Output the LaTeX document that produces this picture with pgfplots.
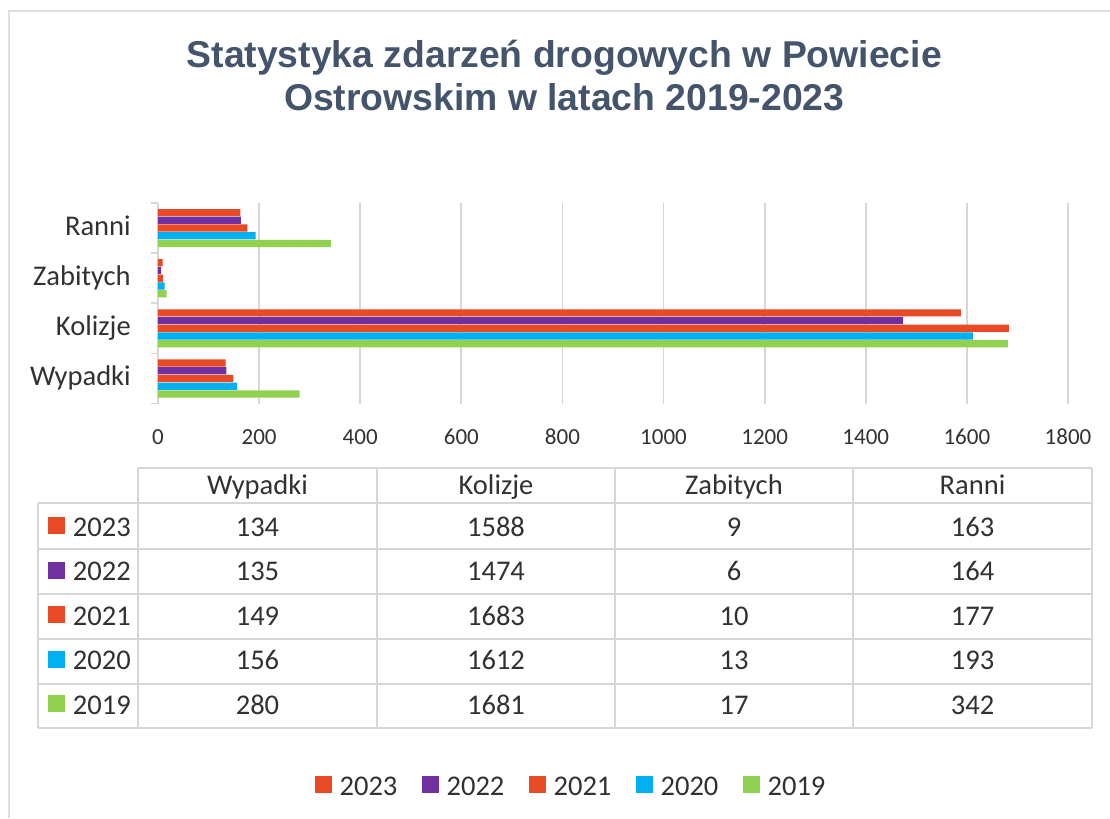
\documentclass[border=0pt]{standalone}
\usepackage{fontspec}
\setmainfont{Carlito}
\newfontfamily\titlefont{Liberation Sans}
\usepackage{pgfplots}
\pgfplotsset{compat=1.18}
\definecolor{cRed}{HTML}{E84A25}
\definecolor{cPurple}{HTML}{7030A0}
\definecolor{cCyan}{HTML}{00B0F0}
\definecolor{cGreen}{HTML}{92D050}
\definecolor{cTitle}{HTML}{44546A}
\definecolor{cText}{RGB}{52,48,48}
\definecolor{cGrid}{RGB}{217,213,210}
\definecolor{cFrame}{RGB}{226,222,218}
\begin{document}
\begin{tikzpicture}[x=0.75pt,y=-0.75pt]
\path[use as bounding box] (0,0) rectangle (1110,818);
\draw[cFrame, line width=1.5pt] (9,818) -- (9,11) -- (1110,11);
% title
\node[anchor=base, inner sep=0pt, text=cTitle, font=\titlefont\bfseries\fontsize{28}{33}\selectfont] at (564.3,67) {Statystyka zdarzeń drogowych w Powiecie};
\node[anchor=base, inner sep=0pt, text=cTitle, font=\titlefont\bfseries\fontsize{28}{33}\selectfont] at (564.3,110) {Ostrowskim w latach 2019-2023};
\coordinate (axSW) at (158,403.5);
\begin{axis}[
  at={(axSW)}, anchor=south west,
  scale only axis, width=682.5pt, height=150.375pt,
  xbar, bar width=5.4pt,
  xmin=0, xmax=1800, ymin=-0.5, ymax=3.5,
  enlargelimits=false,
  axis lines*=left,
  x axis line style={draw=none},
  y axis line style={draw=cGrid, line width=1.3pt},
  xtick={0,200,...,1800},
  ytick={0,1,2,3},
  yticklabels={Wypadki,Kolizje,Zabitych,Ranni},
  minor ytick={-0.5,0.5,1.5,2.5,3.5},
  major tick length=0pt,
  minor tick length=5.25pt,
  tick align=outside,
  minor tick style={draw=cGrid, line width=1.3pt},
  xmajorgrids,
  major grid style={draw=cGrid, line width=1.3pt},
  /pgf/number format/assume math mode=true,
  /pgf/number format/1000 sep={},
  xticklabel style={font=\fontsize{17.25}{20}\selectfont, text=cText, anchor=center, inner sep=0pt, yshift=-25.1pt},
  yticklabel style={font=\fontsize{21.4}{25}\selectfont, text=cText, anchor=base east, inner sep=0pt, xshift=-20.25pt, yshift=-5.25pt},
]
\addplot[fill=cRed, draw=none, bar shift=11.6pt] coordinates {(134,0) (1588,1) (9,2) (163,3)};
\addplot[fill=cPurple, draw=none, bar shift=5.8pt] coordinates {(135,0) (1474,1) (6,2) (164,3)};
\addplot[fill=cRed, draw=none, bar shift=0pt] coordinates {(149,0) (1683,1) (10,2) (177,3)};
\addplot[fill=cCyan, draw=none, bar shift=-5.8pt] coordinates {(156,0) (1612,1) (13,2) (193,3)};
\addplot[fill=cGreen, draw=none, bar shift=-11.6pt] coordinates {(280,0) (1681,1) (17,2) (342,3)};
\end{axis}
% data table
\begin{scope}[cGrid, line width=1.5pt]
\draw (138,468) -- (1092,468);
\foreach \yy in {503,549,594,639,684,728} {\draw (38,\yy) -- (1092,\yy);}
\draw (38,503) -- (38,728);
\foreach \xx in {138,377,615,853,1092} {\draw (\xx,468) -- (\xx,728);}
\end{scope}
\begin{scope}[every node/.style={anchor=base, inner sep=0pt, text=cText, font=\fontsize{21.4}{25}\selectfont}]
\node at (257.5,494.7) {Wypadki};
\node at (496,494.7) {Kolizje};
\node at (734,494.7) {Zabitych};
\node at (972.5,494.7) {Ranni};
% rows
\node at (257.5,536) {134}; \node at (496,536) {1588}; \node at (734,536) {9}; \node at (972.5,536) {163};
\node at (257.5,580.5) {135}; \node at (496,580.5) {1474}; \node at (734,580.5) {6}; \node at (972.5,580.5) {164};
\node at (257.5,625) {149}; \node at (496,625) {1683}; \node at (734,625) {10}; \node at (972.5,625) {177};
\node at (257.5,669.5) {156}; \node at (496,669.5) {1612}; \node at (734,669.5) {13}; \node at (972.5,669.5) {193};
\node at (257.5,714) {280}; \node at (496,714) {1681}; \node at (734,714) {17}; \node at (972.5,714) {342};
\node[anchor=base west] at (72.7,536) {2023};
\node[anchor=base west] at (72.7,580.5) {2022};
\node[anchor=base west] at (72.7,625) {2021};
\node[anchor=base west] at (72.7,669.5) {2020};
\node[anchor=base west] at (72.7,714) {2019};
% legend
\node[anchor=base west] at (339.3,795) {2023};
\node[anchor=base west] at (446.3,795) {2022};
\node[anchor=base west] at (553.3,795) {2021};
\node[anchor=base west] at (660.3,795) {2020};
\node[anchor=base west] at (767.3,795) {2019};
\end{scope}
\fill[cRed] (48.3,517) rectangle (65,534);
\fill[cPurple] (48.3,561.5) rectangle (65,578.5);
\fill[cRed] (48.3,606) rectangle (65,623);
\fill[cCyan] (48.3,650.5) rectangle (65,667.5);
\fill[cGreen] (48.3,695) rectangle (65,712);
\fill[cRed] (315,776) rectangle (332,793);
\fill[cPurple] (422,776) rectangle (439,793);
\fill[cRed] (529,776) rectangle (546,793);
\fill[cCyan] (636,776) rectangle (653,793);
\fill[cGreen] (743,776) rectangle (760,793);
\end{tikzpicture}
\end{document}
